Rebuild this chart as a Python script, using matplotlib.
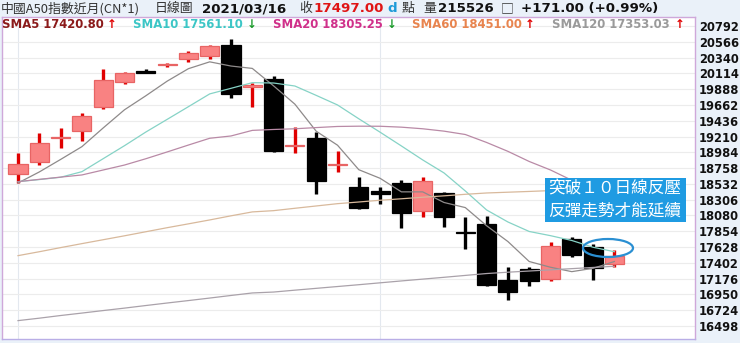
import matplotlib
matplotlib.use("Agg")
import matplotlib.pyplot as plt
from matplotlib.patches import Ellipse, Rectangle
import numpy as np

# ---------------- data ----------------
opens  = [18674, 18850, 19190, 19294, 19637, 19995, 20155, 20238, 20315, 20367,
          20520, 19915, 20034, 19075, 19194, 18803, 18492, 18431, 18550, 18145,
          18407, 17844, 17959, 17157, 17315, 17167, 17740, 17625, 17382]
highs  = [18979, 19265, 19337, 19543, 20177, 20129, 20180, 20260, 20439, 20520,
          20606, 19981, 20081, 19351, 19279, 19003, 18627, 18492, 18588, 18635,
          18421, 18063, 18073, 17348, 17339, 17701, 17777, 17672, 17587]
lows   = [18541, 18803, 19042, 19151, 19604, 19962, 20118, 20200, 20281, 20315,
          19757, 19629, 18995, 18970, 18384, 18707, 18173, 18245, 17897, 18063,
          17911, 17597, 17071, 16871, 17071, 17140, 17491, 17157, 17348]
closes = [18817, 19122, 19205, 19504, 20019, 20115, 20120, 20253, 20401, 20510,
          19815, 19948, 19003, 19089, 18574, 18817, 18192, 18388, 18120, 18574,
          18054, 17830, 17086, 16990, 17147, 17644, 17515, 17326, 17497]

sma5   = [18545, 18703, 18882, 19065, 19333, 19593, 19793, 20002, 20181, 20279,
          20219, 20185, 19935, 19673, 19286, 19086, 18735, 18612, 18418, 18418,
          18266, 18193, 17933, 17707, 17421, 17339, 17276, 17324, 17421]
sma10  = [18564, 18594, 18627, 18707, 18893, 19079, 19274, 19455, 19637, 19820,
          19900, 19981, 19976, 19933, 19799, 19662, 19464, 19272, 19075, 18875,
          18689, 18431, 18159, 17987, 17851, 17791, 17722, 17625, 17561]
sma20  = [18564, 18597, 18629, 18660, 18731, 18802, 18892, 18989, 19088, 19185,
          19218, 19298, 19311, 19321, 19338, 19354, 19358, 19357, 19344, 19321,
          19287, 19239, 19125, 18998, 18853, 18731, 18584, 18445, 18305]
sma60  = [17505, 17561, 17620, 17677, 17733, 17789, 17847, 17905, 17960, 18016,
          18075, 18131, 18149, 18183, 18216, 18249, 18273, 18298, 18319, 18341,
          18361, 18383, 18402, 18413, 18424, 18436, 18444, 18452, 18451]
sma120 = [16575, 16610, 16648, 16683, 16719, 16754, 16791, 16827, 16862, 16898,
          16935, 16971, 16984, 17011, 17037, 17063, 17089, 17116, 17143, 17169,
          17195, 17222, 17249, 17268, 17285, 17302, 17319, 17336, 17353]

y_ticks = [20792, 20566, 20340, 20114, 19888, 19662, 19436, 19210, 18984, 18758,
           18532, 18306, 18080, 17854, 17628, 17402, 17176, 16950, 16724, 16498]
month_start_idx = [0, 17]

# ---------------- layout ----------------
W, H = 740, 343
fig = plt.figure(figsize=(W / 100, H / 100), dpi=100)
fig.patch.set_facecolor('#eaf1f9')

L, R, T, B = 2, 695, 17, 339          # plot box in pixels
x0_px, step_px = 18, 21.3             # first candle pixel / candle spacing
ax = fig.add_axes([L / W, 1 - B / H, (R - L) / W, (B - T) / H])
ax.set_facecolor('white')

n = len(closes)
xs = np.arange(n)
ax.set_xlim(-(x0_px - L) / step_px, (R - x0_px) / step_px)
k = (y_ticks[0] - y_ticks[-1]) / (326 - 26)
ax.set_ylim(y_ticks[0] - (B - 26) * k, y_ticks[0] + (26 - T) * k)

# grid
ax.set_yticks(y_ticks)
ax.set_yticklabels([str(v) for v in y_ticks])
ax.yaxis.grid(True, color='#ececec', lw=0.8)
ax.set_axisbelow(True)
for i in month_start_idx:
    ax.axvline(i, color='#e3e8ef', lw=0.8, zorder=0)
ax.set_xticks([])
ax.yaxis.tick_right()
ax.tick_params(axis='y', length=0, pad=3, labelsize=8.3, labelcolor='#111111')
for lbl in ax.get_yticklabels():
    lbl.set_fontweight('bold')
for s in ['left', 'top', 'right']:
    ax.spines[s].set_color('#cfa8da')
ax.spines['bottom'].set_color('#b9aee6')
for s in ax.spines.values():
    s.set_linewidth(1.0)

# ---------------- candles ----------------
o = np.array(opens, float); c = np.array(closes, float)
h = np.array(highs, float); lo = np.array(lows, float)
up = c >= o
wick_col = np.where(up, '#e00000', '#000000')
face_col = np.where(up, '#f98282', '#000000')
edge_col = np.where(up, '#e86464', '#000000')
ax.vlines(xs, lo, h, colors=wick_col, lw=2.4, zorder=2)
ax.bar(xs, np.abs(c - o), bottom=np.minimum(o, c), width=0.9,
       color=face_col, edgecolor=edge_col, lw=0.9, zorder=3)

# ---------------- moving averages ----------------
ax.plot(xs, sma5, color='#8e8a8a', lw=0.9, zorder=4)
ax.plot(xs, sma10, color='#86d3c6', lw=0.9, zorder=4)
ax.plot(xs, sma20, color='#b98aa6', lw=0.9, zorder=4)
ax.plot(xs, sma60, color='#d8b99c', lw=0.9, zorder=4)
ax.plot(xs, sma120, color='#aaa2aa', lw=0.9, zorder=4)

# ---------------- header texts ----------------
CJK = ['Noto Sans CJK TC', 'DejaVu Sans']

def put(xpx, ypx, s, color='#333333', size=9, bold=False, family=None):
    kw = dict(ha='left', va='center', color=color, fontsize=size,
              fontweight='bold' if bold else 'normal')
    if family is not None:
        kw['family'] = family
    fig.text(xpx / W, 1 - ypx / H, s, zorder=20, **kw)

y1 = 8.5
put(1, y1, '中國A50指數近月(CN*1)', size=9.3, family=CJK)
put(155, y1, '日線圖', size=9.3, family=CJK)
put(202, y1, '2021/03/16', color='#111111', size=9.6, bold=True)
put(299, y1, '收', size=9.3, family=CJK)
put(313, y1, '17497.00', color='#e01515', size=9.6, bold=True)
put(387, y1, 'd', color='#1c9ad8', size=9.6, bold=True)
put(402, y1, '點', size=9.3, family=CJK)
put(423, y1, '量', size=9.3, family=CJK)
put(438, y1, '215526', color='#111111', size=9.6, bold=True)
put(501, y1, '□', size=9.3, family=CJK)
put(521, y1, '+171.00 (+0.99%)', color='#111111', size=9.6, bold=True)

y2 = 24.5
sma_labels = [
    (2, 'SMA5 17420.80', '#8b1a1a', 107, '↑', '#e00000'),
    (133, 'SMA10 17561.10', '#3cc6c6', 247, '↓', '#1a9a2a'),
    (273, 'SMA20 18305.25', '#d0308a', 387, '↓', '#1a9a2a'),
    (412, 'SMA60 18451.00', '#e8844e', 525, '↑', '#e00000'),
    (552, 'SMA120 17353.03', '#9a9a9a', 675, '↑', '#e00000'),
]
for xp, s, col, xa, arr, acol in sma_labels:
    put(xp, y2, s, color=col, size=8.4, bold=True)
    put(xa, y2, arr, color=acol, size=8.4, bold=True)

# ---------------- annotation ----------------
fig.add_artist(Rectangle((545 / W, 1 - 222 / H), 141 / W, 44 / H,
                         transform=fig.transFigure, facecolor='#1f9be2',
                         edgecolor='none', zorder=15))
put(548, 188.5, '突破１０日線反壓', color='white', size=12, family=CJK)
put(548, 211, '反彈走勢才能延續', color='white', size=12, family=CJK)
fig.add_artist(Ellipse((608 / W, 1 - 248 / H), 50 / W, 18 / H,
                       transform=fig.transFigure, fill=False,
                       edgecolor='#2a8fd2', lw=1.6, zorder=16))

fig.savefig('out.png', dpi=100, facecolor=fig.get_facecolor())
